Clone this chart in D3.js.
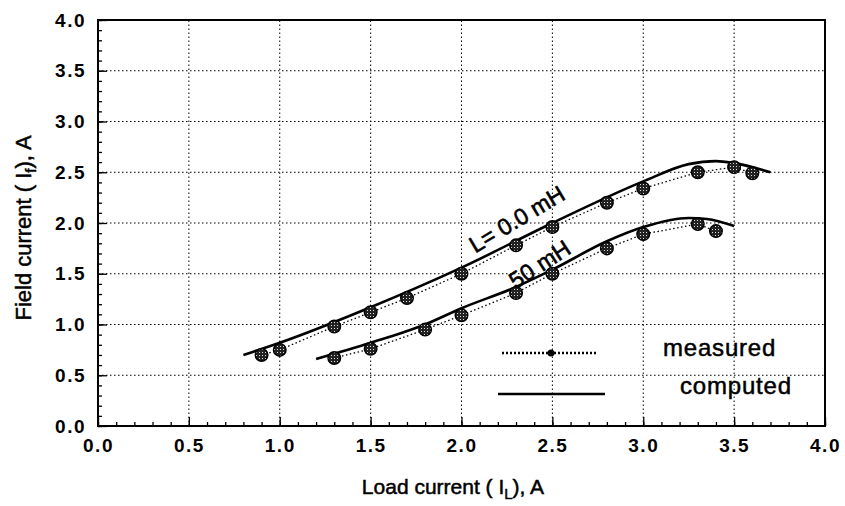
<!DOCTYPE html>
<html>
<head>
<meta charset="utf-8">
<script src="https://cdn.jsdelivr.net/npm/d3@7"></script>
<style>
  body { margin: 0; background: #fff; }
  svg { font-family: "Liberation Sans", Arial, sans-serif; }
</style>
</head>
<body>
<div id="chart"></div>
<script>
// measured points, L = 0.0 mH
var measX0 = [0.9, 1.0, 1.3, 1.5, 1.7, 2.0, 2.3, 2.5, 2.8, 3.0, 3.3, 3.5, 3.6];
var measY0 = [0.70, 0.75, 0.98, 1.12, 1.26, 1.50, 1.78, 1.96, 2.20, 2.34, 2.50, 2.55, 2.49];
// measured points, 50 mH
var measX50 = [1.3, 1.5, 1.8, 2.0, 2.3, 2.5, 2.8, 3.0, 3.3, 3.4];
var measY50 = [0.67, 0.76, 0.95, 1.09, 1.31, 1.50, 1.75, 1.89, 1.99, 1.92];
// computed curves
var compX0 = [0.8, 1.0, 1.5, 2.0, 2.5, 3.0, 3.25, 3.4, 3.5, 3.7];
var compY0 = [0.70, 0.82, 1.17, 1.56, 2.00, 2.41, 2.58, 2.61, 2.59, 2.50];
var compX50 = [1.2, 1.5, 1.8, 2.0, 2.3, 2.5, 2.8, 3.0, 3.25, 3.35, 3.5];
var compY50 = [0.66, 0.82, 1.00, 1.16, 1.37, 1.54, 1.82, 1.96, 2.05, 2.04, 1.97];

var majorTicks = [0, 0.5, 1.0, 1.5, 2.0, 2.5, 3.0, 3.5, 4.0];

var W = 845, H = 506;
var x = d3.scaleLinear().domain([0, 4]).range([98, 825]);
var y = d3.scaleLinear().domain([0, 4]).range([426, 20]);

var svg = d3.select('#chart').append('svg')
    .attr('width', W)
    .attr('height', H);

// speckle pattern for the measured markers
var pat = svg.append('defs').append('pattern')
    .attr('id', 'speck')
    .attr('patternUnits', 'userSpaceOnUse')
    .attr('width', 3).attr('height', 3);
pat.append('rect').attr('width', 3).attr('height', 3).attr('fill', '#222');
pat.append('rect').attr('x', 1).attr('y', 1).attr('width', 1).attr('height', 1).attr('fill', '#ddd');

var minor = d3.range(0, 40.5, 1).map(function (d) { return d / 10; });

// grid
var grid = svg.append('g');
grid.selectAll('line.gx')
    .data(majorTicks.slice(1, -1))
    .enter().append('line')
    .attr('x1', function (d) { return x(d); })
    .attr('x2', function (d) { return x(d); })
    .attr('y1', y(0)).attr('y2', y(4));
grid.selectAll('line.gy')
    .data(majorTicks.slice(1, -1))
    .enter().append('line')
    .attr('y1', function (d) { return y(d); })
    .attr('y2', function (d) { return y(d); })
    .attr('x1', x(0)).attr('x2', x(4));
grid.selectAll('line')
    .attr('stroke', '#000')
    .attr('stroke-width', 1)
    .attr('stroke-dasharray', '1.5,2.5');

// axes, ticks pointing inwards
var xMinor = d3.axisBottom(x).tickValues(minor).tickSize(-4).tickFormat('');
var xMajor = d3.axisBottom(x).tickValues(majorTicks).tickSize(-9).tickPadding(13)
    .tickFormat(d3.format('.1f'));
var yMinor = d3.axisLeft(y).tickValues(minor).tickSize(-4).tickFormat('');
var yMajor = d3.axisLeft(y).tickValues(majorTicks).tickSize(-9).tickPadding(12)
    .tickFormat(d3.format('.1f'));

svg.append('g').attr('transform', 'translate(0,' + y(0) + ')').call(xMinor);
svg.append('g').attr('transform', 'translate(0,' + y(0) + ')').call(xMajor);
svg.append('g').attr('transform', 'translate(' + x(0) + ',0)').call(yMinor);
svg.append('g').attr('transform', 'translate(' + x(0) + ',0)').call(yMajor);

svg.selectAll('.domain').remove();
svg.selectAll('.tick line').attr('stroke', '#000').attr('stroke-width', 1.3);
svg.selectAll('.tick text')
    .attr('fill', '#000')
    .attr('font-size', 19)
    .attr('font-weight', 'bold')
    .style('letter-spacing', '1.5px');

// frame
svg.append('rect')
    .attr('x', x(0)).attr('y', y(4))
    .attr('width', x(4) - x(0)).attr('height', y(0) - y(4))
    .attr('fill', 'none')
    .attr('stroke', '#000')
    .attr('stroke-width', 2);

var zip = function (xs, ys) { return xs.map(function (v, i) { return [v, ys[i]]; }); };

var smooth = d3.line()
    .x(function (d) { return x(d[0]); })
    .y(function (d) { return y(d[1]); })
    .curve(d3.curveMonotoneX);
var straight = d3.line()
    .x(function (d) { return x(d[0]); })
    .y(function (d) { return y(d[1]); });

[[compX0, compY0], [compX50, compY50]].forEach(function (s) {
    svg.append('path')
        .attr('d', smooth(zip(s[0], s[1])))
        .attr('fill', 'none')
        .attr('stroke', '#000')
        .attr('stroke-width', 2.6);
});

[[measX0, measY0], [measX50, measY50]].forEach(function (s) {
    var pts = zip(s[0], s[1]);
    svg.append('path')
        .attr('d', straight(pts))
        .attr('fill', 'none')
        .attr('stroke', '#000')
        .attr('stroke-width', 1.3)
        .attr('stroke-dasharray', '1.5,2.5');
    svg.append('g').selectAll('circle')
        .data(pts)
        .enter().append('circle')
        .attr('cx', function (d) { return x(d[0]); })
        .attr('cy', function (d) { return y(d[1]); })
        .attr('r', 6.3)
        .attr('fill', 'url(#speck)')
        .attr('stroke', '#000')
        .attr('stroke-width', 1.4);
});

// curve labels
var lbl = function (tx, ty, ang, s) {
    svg.append('text')
        .attr('transform', 'translate(' + tx + ',' + ty + ') rotate(' + ang + ')')
        .attr('text-anchor', 'middle')
        .attr('font-size', 23)
        .attr('stroke', '#000')
        .attr('stroke-width', 0.6)
        .text(s);
};
lbl(521, 226, -31, 'L= 0.0 mH');
lbl(544, 271, -33, '50 mH');

// legend
svg.append('line')
    .attr('x1', 502).attr('x2', 596).attr('y1', 353).attr('y2', 353)
    .attr('stroke', '#000').attr('stroke-width', 2.5)
    .attr('stroke-dasharray', '2,2');
svg.append('circle').attr('cx', 551).attr('cy', 353).attr('r', 3.5).attr('fill', '#000');
svg.append('line')
    .attr('x1', 498).attr('x2', 605).attr('y1', 394).attr('y2', 394)
    .attr('stroke', '#000').attr('stroke-width', 2.6);
svg.selectAll('text.leg')
    .data([['measured', 663, 356], ['computed', 680, 394]])
    .enter().append('text')
    .attr('x', function (d) { return d[1]; })
    .attr('y', function (d) { return d[2]; })
    .attr('font-size', 24)
    .attr('stroke', '#000')
    .attr('stroke-width', 0.5)
    .style('letter-spacing', '0.8px')
    .text(function (d) { return d[0]; });

// axis titles
var xt = svg.append('text')
    .attr('x', 453).attr('y', 494)
    .attr('text-anchor', 'middle')
    .attr('font-size', 21)
    .attr('stroke', '#000')
    .attr('stroke-width', 0.5);
xt.append('tspan').text('Load current ( I');
xt.append('tspan').attr('font-size', 15).attr('dy', 5).text('L');
xt.append('tspan').attr('dy', -5).text('), A');

var yt = svg.append('text')
    .attr('transform', 'translate(31,228) rotate(-90)')
    .attr('text-anchor', 'middle')
    .attr('font-size', 22)
    .attr('stroke', '#000')
    .attr('stroke-width', 0.5);
yt.append('tspan').text('Field current ( I');
yt.append('tspan').attr('font-size', 15).attr('dy', 5).text('f');
yt.append('tspan').attr('dy', -5).text('), A');
</script>
</body>
</html>
